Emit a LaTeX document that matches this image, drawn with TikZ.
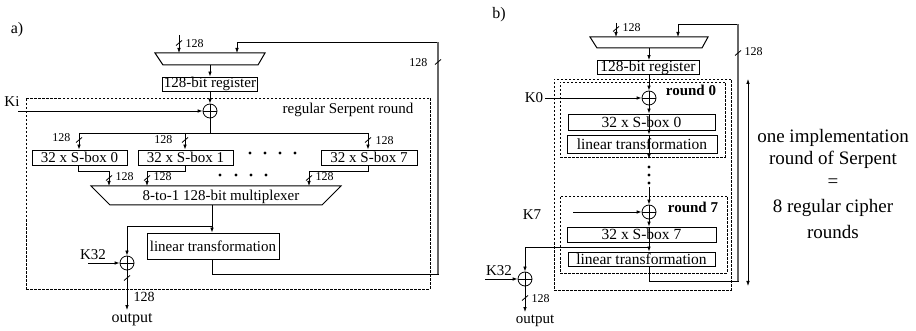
\documentclass[tikz,border=0pt]{standalone}
\usepackage{fontspec}
\setmainfont{Liberation Serif}
\usetikzlibrary{arrows.meta}
\begin{document}
\begin{tikzpicture}[x=1pt,y=-1pt,
  line width=0.8pt,
  arr/.style={-{Latex[length=5pt,width=3.6pt]}},
  darr/.style={{Latex[length=5pt,width=3.6pt]}-{Latex[length=5pt,width=3.6pt]}},
  box/.style={draw,inner sep=0pt,line width=0.8pt},
  fa/.style={font=\fontsize{15}{17}\selectfont},
  fb/.style={font=\fontsize{15.5}{17}\selectfont},
  fbold/.style={font=\fontsize{15}{17}\selectfont\bfseries},
  fs/.style={font=\fontsize{12}{14}\selectfont},
  fo/.style={font=\fontsize{16}{18}\selectfont},
  fbig/.style={font=\fontsize{19}{22}\selectfont},
  xor/.style={circle,draw,minimum size=14pt,inner sep=0pt,
    path picture={\draw (path picture bounding box.north) -- (path picture bounding box.south)
      (path picture bounding box.west) -- (path picture bounding box.east);}},
  dbox/.style={draw,line width=0.7pt,dash pattern=on 2.5pt off 1.5pt,inner sep=0pt},
  fbvert/.style={line width=1.5pt,draw=black!60},
  busmark/.pic={\draw[line width=0.8pt] (-3pt,-2.5pt) -- (3pt,2.5pt);},
]
\useasboundingbox (0,0) rectangle (916,331);

% ================= panel a =================
\node[fo] (la) at (17,30) {a)};

% top multiplexer
\coordinate (mA1) at (155,53);
\coordinate (mA2) at (265,53);
\coordinate (mA3) at (258,65);
\coordinate (mA4) at (163,65);
\draw[line width=1pt] (mA1) -- (mA2) -- (mA3) -- (mA4) -- cycle;
\coordinate (inA) at (179,35);
\coordinate (mAin) at (179,53);
\coordinate (mAfb) at (237,53);
\coordinate (mAout) at (210,65);
\draw[arr] (inA) -- (mAin);
\pic at (179,43) {busmark};
\node[fs,anchor=west] (l128a1) at (182,44) {128};

\node[box,fa,minimum width=95pt,minimum height=14pt] (regA) at (210,84) {128-bit register};
\draw[arr] (mAout) -- (regA);

% dashed round box
\node[dbox,minimum width=404pt,minimum height=191pt] (rndA) at (228,193.5) {};
\node[fa] (rsr) at (348,110) {regular Serpent round};

\node[xor] (xA1) at (210,111) {};
\draw[arr] (regA) -- (xA1);
\node[fa] (ki) at (12,102) {Ki};
\coordinate (kiS) at (18,111);
\draw[arr] (kiS) -- (xA1);

% split to S-boxes
\coordinate (spA) at (210,133);
\coordinate (spL) at (79,133);
\coordinate (spR) at (368,133);
\coordinate (spM) at (185,133);
\draw (xA1) -- (spA);
\draw (spL) -- (spR);

\node[box,fa,minimum width=95pt,minimum height=15pt] (S0) at (79.5,157.5) {32 x S-box 0};
\node[box,fa,minimum width=95pt,minimum height=15pt] (S1) at (185.5,157.5) {32 x S-box 1};
\node[box,fa,minimum width=96pt,minimum height=15pt] (S7) at (369,157.5) {32 x S-box 7};

\draw[arr] (spL) -- (S0.north -| spL);
\draw[arr] (spM) -- (S1.north -| spM);
\draw[arr] (spR) -- (S7.north -| spR);
\pic at (79,140) {busmark};
\pic at (185,140) {busmark};
\pic at (368,140) {busmark};
\node[fs,anchor=east] (l128a2) at (74,138) {128};
\node[fs,anchor=east] (l128a3) at (176,140) {128};
\node[fs,anchor=west] (l128a4) at (372,141) {128};

\foreach \x in {250,265,280,295} \fill (\x,153) circle (1.7pt);

% big multiplexer
\coordinate (mB1) at (91,186);
\coordinate (mB2) at (341,186);
\coordinate (mB3) at (322,205);
\coordinate (mB4) at (110,205);
\draw[line width=1pt] (mB1) -- (mB2) -- (mB3) -- (mB4) -- cycle;
\node[fa] (muxt) at (221,196.5) {8-to-1 128-bit multiplexer};
\coordinate (mBi0) at (109,186);
\coordinate (mBi1) at (147,186);
\coordinate (mBi7) at (309,186);
\draw[arr] ([xshift=-1.5pt]S0.south) -- ++(0,6) -| (mBi0);
\draw[arr] ([xshift=-0.5pt]S1.south) -- ++(0,6) -| (mBi1);
\draw[arr] ([xshift=-1pt]S7.south) -- ++(0,6) -| (mBi7);
\pic at (109,178) {busmark};
\pic at (147,178) {busmark};
\pic at (309,178) {busmark};
\node[fs,anchor=west] (l128a5) at (112,177) {128};
\node[fs,anchor=west] (l128a6) at (150,177) {128};
\node[fs,anchor=west] (l128a7) at (312,177) {128};

\foreach \x in {220,236,251,266} \fill (\x,175) circle (1.7pt);

% linear transformation
\node[box,fa,minimum width=132pt,minimum height=26pt] (LTA) at (213,246) {linear transformation};
\coordinate (m2out) at (212,205);
\coordinate (jA) at (212,226);
\draw (m2out) -- (jA);
\draw[arr] (jA) -- (LTA.north -| jA);

\node[xor] (xA2) at (127,263) {};
\draw[arr] (jA) -| (xA2);
\node[fa] (k32a) at (93,255) {K32};
\coordinate (k32aS) at (88,263);
\draw[arr] (k32aS) -- (xA2);

\coordinate (outAe) at (127,310);
\draw[arr] (xA2) -- (outAe);
\pic at (127,278) {busmark};
\node[font=\fontsize{14}{16}\selectfont,anchor=west] (l128a8) at (130,297) {128};
\node[fo] (outA) at (132,320) {output};

% feedback a
\coordinate (fbA1) at (438,274);
\coordinate (fbA2) at (438,42);
\draw[arr] ([xshift=-1pt]LTA.south) |- (fbA1) -- (fbA2) -| (mAfb);
\draw[fbvert] (fbA1) -- (fbA2);
\pic at (438,62) {busmark};
\node[fs,anchor=east] (l128a9) at (431,63) {128};

% ================= panel b =================
\node[fo] (lb) at (499,15) {b)};

\coordinate (mC1) at (590,37);
\coordinate (mC2) at (708,37);
\coordinate (mC3) at (702,48);
\coordinate (mC4) at (597,48);
\draw[line width=1pt] (mC1) -- (mC2) -- (mC3) -- (mC4) -- cycle;
\coordinate (inB) at (616,23);
\coordinate (mCin) at (616,37);
\coordinate (mCfb) at (678,37);
\coordinate (mCout) at (649,48);
\draw[arr] (inB) -- (mCin);
\pic at (616,29) {busmark};
\node[fs,anchor=west] (l128b1) at (619,28) {128};

\node[box,fb,minimum width=102pt,minimum height=12pt] (regB) at (648,67.5) {128-bit register};
\draw[arr] (mCout) -- (regB.north -| mCout);

\node[dbox,minimum width=177pt,minimum height=211pt] (outerB) at (642.5,184.5) {};
\node[dbox,minimum width=165pt,minimum height=75pt] (r0B) at (642.5,119.5) {};
\node[dbox,minimum width=167pt,minimum height=77pt] (r7B) at (643.5,234.5) {};

\node[xor] (xB0) at (649,98) {};
\draw[arr] (regB.south -| xB0) -- (xB0);
\node[fa] (k0) at (534,98) {K0};
\coordinate (k0S) at (545,98);
\draw[arr] (k0S) -- (xB0);
\node[fbold] (rd0) at (691,90) {round 0};

\node[box,fb,minimum width=147pt,minimum height=16pt] (SB0) at (641.5,122) {32 x S-box 0};
\node[box,fb,minimum width=150pt,minimum height=18pt] (LB0) at (642,144) {linear transformation};
\draw[arr] (xB0) -- (SB0.north -| xB0);
\draw[arr] (SB0.north -| xB0) -- (LB0.north -| xB0);
\coordinate (dTop) at (649,159);
\draw[arr] (LB0.north -| xB0) -- (dTop);
\foreach \y in {167,175,183} \fill (649,\y) circle (1.7pt);
\coordinate (dBot) at (649,187);

\node[xor] (xB7) at (649,212) {};
\draw[arr] (dBot) -- (xB7);
\node[fa] (k7) at (532,215) {K7};
\coordinate (k7S) at (573,212);
\draw[arr] (k7S) -- (xB7);
\node[fbold] (rd7) at (693,207) {round 7};

\node[box,fb,minimum width=149pt,minimum height=15pt] (SB7) at (641.5,234.5) {32 x S-box 7};
\node[box,fb,minimum width=147pt,minimum height=14pt] (LB7) at (641.5,259) {linear transformation};
\draw[arr] (xB7) -- (SB7.north -| xB7);
\draw[arr] (SB7.north -| xB7) -- (LB7.north -| xB7);

\node[xor] (xB32) at (525,279) {};
\coordinate (tapB) at (649,247);
\draw[arr] (tapB) -| (xB32);
\node[fa] (k32b) at (499,271) {K32};
\coordinate (k32bS) at (485,279);
\draw[arr] (k32bS) -- (xB32);
\coordinate (outBe) at (525,312);
\draw[arr] (xB32) -- (outBe);
\pic at (525,298) {busmark};
\node[fs,anchor=west] (l128b2) at (528,299) {128};
\node[fa] (outB) at (535,321) {output};

% feedback b
\coordinate (fbB1) at (738,281);
\coordinate (fbB2) at (738,24);
\draw[arr] (LB7.south -| xB7) |- (fbB1) -- (fbB2) -| (mCfb);
\draw[fbvert] (fbB1) -- (fbB2);
\pic at (738,53) {busmark};
\node[fs,anchor=west] (l128b3) at (741,52) {128};

% double arrow
\coordinate (daT) at (748,79);
\coordinate (daB) at (748,286);
\draw[darr] (daT) -- (daB);

\node[fbig] (t1) at (833,138) {one implementation};
\node[fbig] (t2) at (833,160) {round of Serpent};
\node[fbig] (t3) at (833,183) {=};
\node[fbig] (t4) at (833,208) {8 regular cipher};
\node[fbig] (t5) at (833,232) {rounds};
\end{tikzpicture}
\end{document}
